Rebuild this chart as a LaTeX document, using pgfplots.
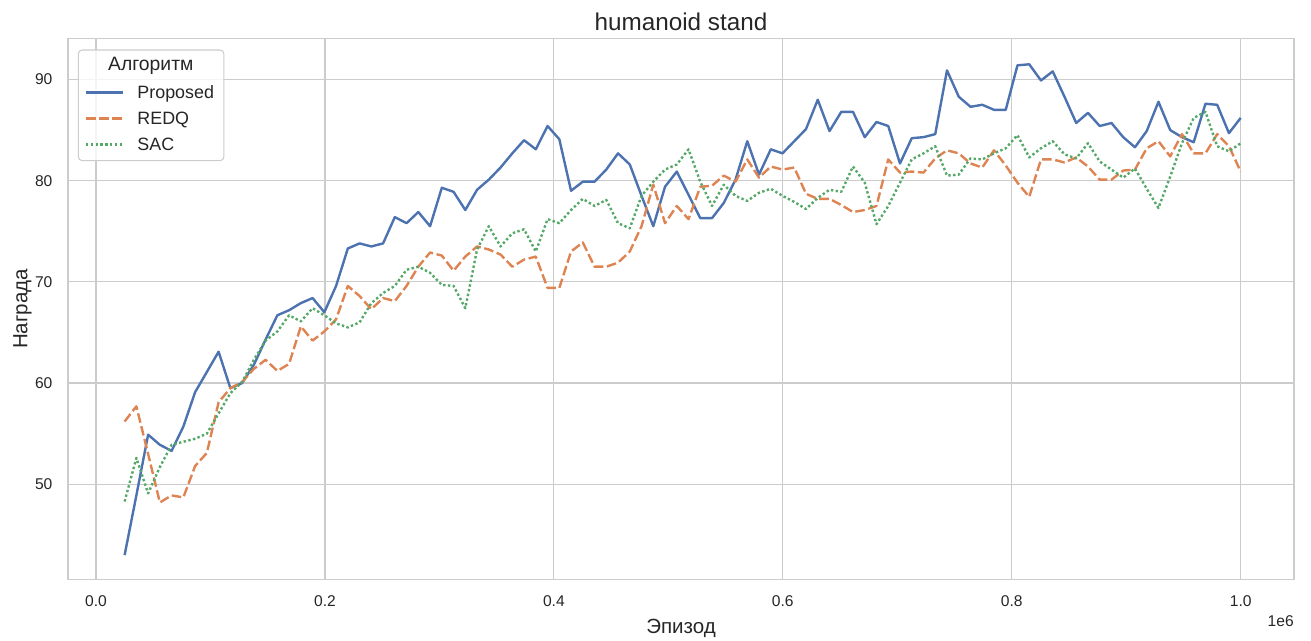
\documentclass[border=0pt]{standalone}
\usepackage{fontspec}
\setmainfont{Liberation Sans}
\usepackage{pgfplots}
\usepackage{pgfplotstable}
\pgfplotsset{compat=1.18}
\definecolor{sbblue}{HTML}{4C72B0}
\definecolor{sborange}{HTML}{DD8452}
\definecolor{sbgreen}{HTML}{55A868}
\definecolor{gridc}{HTML}{CCCCCC}
\definecolor{txt}{HTML}{262626}
\pgfplotstableread{
x p r s
25000 43.0 56.2 48.3
35263 48.9 57.7 52.6
45526 54.9 53.0 49.1
55789 53.9 48.2 51.7
66053 53.3 48.9 53.9
76316 55.7 48.7 54.2
86579 59.1 51.8 54.5
96842 61.1 53.1 55.0
107105 63.1 58.1 57.0
117368 59.5 59.5 59.0
127632 60.0 60.1 60.1
137895 61.8 61.4 62.3
148158 64.3 62.3 64.2
158421 66.7 61.2 65.1
168684 67.2 61.9 66.7
178947 67.9 65.6 66.1
189211 68.4 64.2 67.4
199474 67.0 65.1 66.7
209737 69.6 66.3 65.9
220000 73.3 69.6 65.5
230263 73.8 68.6 66.0
240526 73.5 67.3 67.9
250789 73.8 68.4 68.9
261053 76.4 68.1 69.6
271316 75.8 69.6 71.2
281579 76.9 71.5 71.5
291842 75.5 72.9 70.9
302105 79.3 72.6 69.7
312368 78.9 71.1 69.6
322632 77.1 72.5 67.4
332895 79.1 73.5 73.2
343158 80.1 73.2 75.5
353421 81.3 72.7 73.5
363684 82.7 71.5 74.8
373947 84.0 72.2 75.2
384211 83.1 72.5 73.0
394474 85.4 69.4 76.2
404737 84.1 69.4 75.8
415000 79.0 73.0 77.1
425263 79.9 73.9 78.2
435526 79.9 71.5 77.5
445789 81.1 71.5 78.1
456053 82.7 71.9 75.8
466316 81.6 73.0 75.3
476579 78.5 75.5 78.5
486842 75.5 79.6 79.9
497105 79.4 75.8 81.1
507368 80.9 77.5 81.6
517632 78.6 76.2 83.1
527895 76.3 79.4 79.9
538158 76.3 79.5 77.5
548421 77.8 80.5 79.6
558684 80.1 79.9 78.5
568947 83.9 82.1 78.0
579211 80.6 80.3 78.8
589474 83.1 81.4 79.2
599737 82.7 81.1 78.5
610000 83.9 81.3 77.9
620263 85.1 78.7 77.2
630526 88.0 78.2 78.3
640789 84.9 78.2 79.1
651053 86.8 77.6 78.9
661316 86.8 76.9 81.4
671579 84.3 77.1 79.8
681842 85.8 77.5 75.7
692105 85.4 82.1 77.5
702368 81.7 80.8 79.8
712632 84.2 80.9 82.1
722895 84.3 80.8 82.7
733158 84.6 82.2 83.4
743421 90.9 83.0 80.5
753684 88.3 82.7 80.6
763947 87.3 81.7 82.2
774211 87.5 81.3 82.1
784474 87.0 83.0 82.7
794737 87.0 81.5 83.2
805000 91.4 79.8 84.5
815263 91.5 78.4 82.3
825526 89.9 82.1 83.2
835789 90.8 82.1 83.9
846053 88.3 81.8 82.6
856316 85.7 82.3 82.2
866579 86.7 81.4 83.7
876842 85.4 80.1 81.9
887105 85.7 80.1 81.1
897368 84.3 81.0 80.3
907632 83.3 81.1 81.2
917895 84.9 83.2 79.2
928158 87.8 83.9 77.3
938421 85.0 82.4 80.4
948684 84.3 84.6 83.7
958947 83.8 82.7 86.2
969211 87.6 82.7 86.8
979474 87.5 84.6 83.4
989737 84.7 83.4 82.9
1000000 86.2 80.9 83.7
}\datatable

\begin{document}
\begin{tikzpicture}
\begin{axis}[
  at={(51pt,45.375pt)}, anchor=south west,
  width=919.5pt, height=405.75pt, scale only axis,
  xmin=-24460, xmax=1046570, ymin=40.59, ymax=94.05,
  xtick={0,200000,400000,600000,800000,1000000},
  xticklabels={0.0,0.2,0.4,0.6,0.8,1.0},
  ytick={50,60,70,80,90},
  scaled x ticks=false,
  major tick length=0pt,
  grid=major,
  major grid style={gridc, line width=0.9pt},
  axis line style={gridc, line width=1.2pt},
  tick label style={font=\fontsize{11.7}{14}\selectfont, text=txt},
  xticklabel style={anchor=base, inner sep=0pt, yshift=-20.6pt},
  yticklabel style={anchor=east, inner sep=0pt, xshift=-11.5pt},
  /pgf/number format/assume math mode=true,
  clip=false,
  legend style={at={(0.0135,0.9246)}, anchor=north west, draw=none, fill=none,
    inner sep=0pt, font=\fontsize{13.4}{16}\selectfont, text=txt,
    column sep=10.2pt, row sep=0pt,
    nodes={inner sep=0pt, text height=13.85pt, text depth=5.65pt}},
  legend cell align=left,
  legend image code/.code={\draw[#1] (0pt,0pt) -- (27.5pt,0pt);},
]
\draw[rounded corners=3pt, draw=gridc, line width=0.8pt, fill=white, fill opacity=0.8]
  (rel axis cs:0.0084,0.7741) rectangle (rel axis cs:0.1272,0.9787);
\node[anchor=base, font=\fontsize{14.5}{17}\selectfont, text=txt, inner sep=0pt]
  at (rel axis cs:0.0675,0.9407) {Алгоритм};
\addplot[sbblue, line width=1.8pt, line join=round] table[x=x,y=p]{\datatable};
\addlegendentry{Proposed}
\addplot[sborange, line width=1.8pt, line join=round, dash pattern=on 7.2pt off 2.7pt] table[x=x,y=r]{\datatable};
\addlegendentry{REDQ}
\addplot[sbgreen, line width=1.8pt, line join=round, dash pattern=on 1.8pt off 1.8pt] table[x=x,y=s]{\datatable};
\addlegendentry{SAC}
\node[anchor=base, font=\fontsize{18.2}{22}\selectfont, text=txt, inner sep=0pt, yshift=5.85pt]
  at (rel axis cs:0.5,1) {humanoid stand};
\node[anchor=base, font=\fontsize{15.4}{18}\selectfont, text=txt, inner sep=0pt, yshift=-40.5pt]
  at (rel axis cs:0.5,0) {Эпизод};
\node[anchor=base east, font=\fontsize{11.7}{14}\selectfont, text=txt, inner sep=0pt, yshift=-35.4pt]
  at (rel axis cs:1,0) {1e6};
\node[xshift=-30.4pt, rotate=90, anchor=base, font=\fontsize{15.4}{18}\selectfont, text=txt, inner sep=0pt]
  at (rel axis cs:0,0.5) {Награда};
\end{axis}
\pgfresetboundingbox
\path[use as bounding box] (0pt,0pt) rectangle (983.25pt,480pt);
\end{tikzpicture}
\end{document}
